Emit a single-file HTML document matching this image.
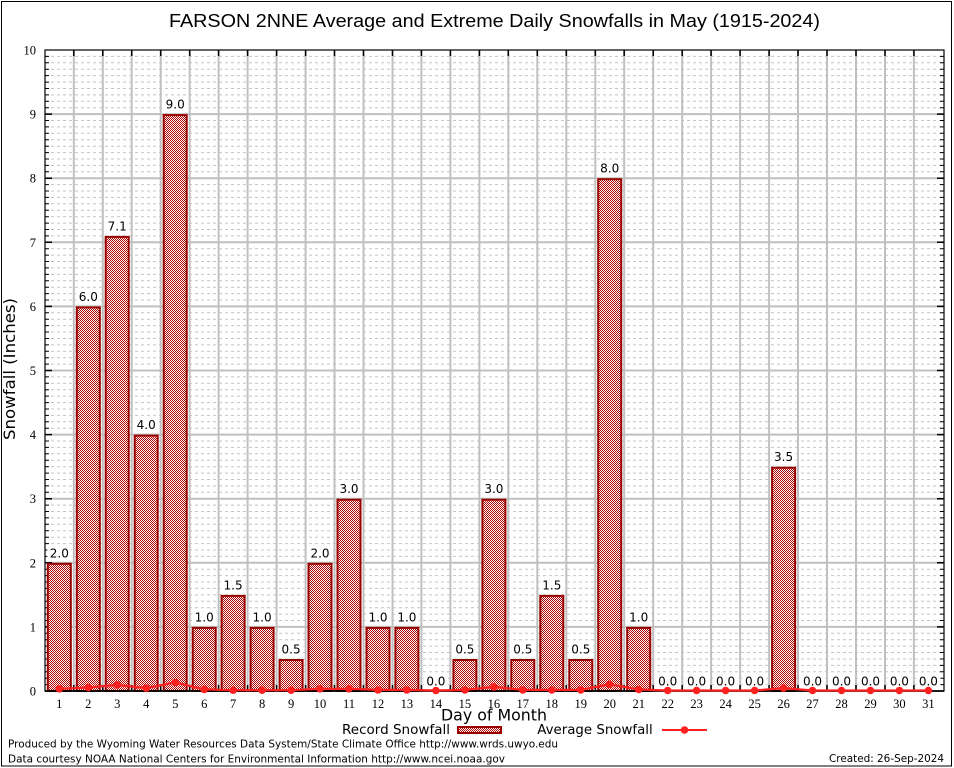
<!DOCTYPE html>
<html><head><meta charset="utf-8"><style>
html,body{margin:0;padding:0;background:#fff;}
svg{display:block;}
</style></head><body>
<svg width="954" height="768" viewBox="0 0 954 768" xmlns="http://www.w3.org/2000/svg">
<defs>
<pattern id="chk" width="2" height="2" patternUnits="userSpaceOnUse"><rect width="2" height="2" fill="#fff" shape-rendering="crispEdges"/><rect width="1" height="1" fill="#b00000" shape-rendering="crispEdges"/><rect x="1" y="1" width="1" height="1" fill="#b00000" shape-rendering="crispEdges"/></pattern>
<path id="minor" d="M45 684.6H944M45 678.2H944M45 671.8H944M45 665.4H944M45 659H944M45 652.5H944M45 646.1H944M45 639.7H944M45 633.3H944M45 620.5H944M45 614.1H944M45 607.7H944M45 601.3H944M45 594.9H944M45 588.4H944M45 582H944M45 575.6H944M45 569.2H944M45 556.4H944M45 550H944M45 543.6H944M45 537.2H944M45 530.8H944M45 524.3H944M45 517.9H944M45 511.5H944M45 505.1H944M45 492.3H944M45 485.9H944M45 479.5H944M45 473.1H944M45 466.7H944M45 460.2H944M45 453.8H944M45 447.4H944M45 441H944M45 428.2H944M45 421.8H944M45 415.4H944M45 409H944M45 402.6H944M45 396.1H944M45 389.7H944M45 383.3H944M45 376.9H944M45 364.1H944M45 357.7H944M45 351.3H944M45 344.9H944M45 338.5H944M45 332H944M45 325.6H944M45 319.2H944M45 312.8H944M45 300H944M45 293.6H944M45 287.2H944M45 280.8H944M45 274.4H944M45 267.9H944M45 261.5H944M45 255.1H944M45 248.7H944M45 235.9H944M45 229.5H944M45 223.1H944M45 216.7H944M45 210.3H944M45 203.8H944M45 197.4H944M45 191H944M45 184.6H944M45 171.8H944M45 165.4H944M45 159H944M45 152.6H944M45 146.2H944M45 139.7H944M45 133.3H944M45 126.9H944M45 120.5H944M45 107.7H944M45 101.3H944M45 94.9H944M45 88.5H944M45 82.1H944M45 75.6H944M45 69.2H944M45 62.8H944M45 56.4H944"/>
<path id="major" d="M45 626.9H944M45 562.8H944M45 498.7H944M45 434.6H944M45 370.5H944M45 306.4H944M45 242.3H944M45 178.2H944M45 114.1H944"/>
<path id="vgrid" d="M73.8 50V691M102.8 50V691M131.7 50V691M160.7 50V691M189.7 50V691M218.6 50V691M247.6 50V691M276.6 50V691M305.6 50V691M334.5 50V691M363.5 50V691M392.5 50V691M421.4 50V691M450.4 50V691M479.4 50V691M508.3 50V691M537.3 50V691M566.3 50V691M595.3 50V691M624.2 50V691M653.2 50V691M682.2 50V691M711.1 50V691M740.1 50V691M769.1 50V691M798 50V691M827 50V691M856 50V691M885 50V691M913.9 50V691"/>
</defs>
<rect x="0" y="0" width="954" height="768" fill="#fff"/>
<rect x="1.5" y="1.5" width="950" height="764.5" fill="none" stroke="#000" stroke-width="1"/>

<!-- grid -->
<use href="#minor" fill="none" stroke="#c4c4c4" stroke-width="1" stroke-dasharray="3 3"/>
<use href="#major" fill="none" stroke="#c0c0c0" stroke-width="2"/>
<use href="#vgrid" fill="none" stroke="#c0c0c0" stroke-width="2"/>

<!-- ticks -->
<use href="#minor" fill="none" stroke="#000" stroke-width="1" stroke-dasharray="4 891 4"/>
<use href="#major" fill="none" stroke="#000" stroke-width="1.5" stroke-dasharray="7 885 7"/>
<use href="#vgrid" fill="none" stroke="#000" stroke-width="1.5" stroke-dasharray="6 629 6"/>

<!-- bars -->
<g fill="url(#chk)" stroke="#990000" stroke-width="2">
<rect x="47.8" y="563.8" width="23" height="127.2"/>
<rect x="76.8" y="307.4" width="23" height="383.6"/>
<rect x="105.7" y="236.9" width="23" height="454.1"/>
<rect x="134.7" y="435.6" width="23" height="255.4"/>
<rect x="163.7" y="115.1" width="23" height="575.9"/>
<rect x="192.7" y="627.9" width="23" height="63.1"/>
<rect x="221.6" y="595.9" width="23" height="95.1"/>
<rect x="250.6" y="627.9" width="23" height="63.1"/>
<rect x="279.6" y="660" width="23" height="31"/>
<rect x="308.5" y="563.8" width="23" height="127.2"/>
<rect x="337.5" y="499.7" width="23" height="191.3"/>
<rect x="366.5" y="627.9" width="23" height="63.1"/>
<rect x="395.4" y="627.9" width="23" height="63.1"/>
<rect x="453.4" y="660" width="23" height="31"/>
<rect x="482.4" y="499.7" width="23" height="191.3"/>
<rect x="511.3" y="660" width="23" height="31"/>
<rect x="540.3" y="595.9" width="23" height="95.1"/>
<rect x="569.3" y="660" width="23" height="31"/>
<rect x="598.2" y="179.2" width="23" height="511.8"/>
<rect x="627.2" y="627.9" width="23" height="63.1"/>
<rect x="772.1" y="467.7" width="23" height="223.3"/>
</g>

<!-- value label boxes -->
<g fill="#fff">
<rect x="47.3" y="544.8" width="24" height="14"/>
<rect x="76.3" y="288.4" width="24" height="14"/>
<rect x="105.2" y="217.9" width="24" height="14"/>
<rect x="134.2" y="416.6" width="24" height="14"/>
<rect x="163.2" y="96.1" width="24" height="14"/>
<rect x="192.2" y="608.9" width="24" height="14"/>
<rect x="221.1" y="576.9" width="24" height="14"/>
<rect x="250.1" y="608.9" width="24" height="14"/>
<rect x="279.1" y="641" width="24" height="14"/>
<rect x="308" y="544.8" width="24" height="14"/>
<rect x="337" y="480.7" width="24" height="14"/>
<rect x="366" y="608.9" width="24" height="14"/>
<rect x="394.9" y="608.9" width="24" height="14"/>
<rect x="423.9" y="673" width="24" height="14"/>
<rect x="452.9" y="641" width="24" height="14"/>
<rect x="481.9" y="480.7" width="24" height="14"/>
<rect x="510.8" y="641" width="24" height="14"/>
<rect x="539.8" y="576.9" width="24" height="14"/>
<rect x="568.8" y="641" width="24" height="14"/>
<rect x="597.7" y="160.2" width="24" height="14"/>
<rect x="626.7" y="608.9" width="24" height="14"/>
<rect x="655.7" y="673" width="24" height="14"/>
<rect x="684.6" y="673" width="24" height="14"/>
<rect x="713.6" y="673" width="24" height="14"/>
<rect x="742.6" y="673" width="24" height="14"/>
<rect x="771.6" y="448.7" width="24" height="14"/>
<rect x="800.5" y="673" width="24" height="14"/>
<rect x="829.5" y="673" width="24" height="14"/>
<rect x="858.5" y="673" width="24" height="14"/>
<rect x="887.4" y="673" width="24" height="14"/>
<rect x="916.4" y="673" width="24" height="14"/>
</g>
<g font-family="'DejaVu Sans', 'Liberation Sans', sans-serif" font-size="12" fill="#000" text-anchor="middle">
<text x="59.3" y="557.3">2.0</text>
<text x="88.3" y="300.9">6.0</text>
<text x="117.2" y="230.4">7.1</text>
<text x="146.2" y="429.1">4.0</text>
<text x="175.2" y="108.6">9.0</text>
<text x="204.2" y="621.4">1.0</text>
<text x="233.1" y="589.4">1.5</text>
<text x="262.1" y="621.4">1.0</text>
<text x="291.1" y="653.5">0.5</text>
<text x="320" y="557.3">2.0</text>
<text x="349" y="493.2">3.0</text>
<text x="378" y="621.4">1.0</text>
<text x="406.9" y="621.4">1.0</text>
<text x="435.9" y="685.5">0.0</text>
<text x="464.9" y="653.5">0.5</text>
<text x="493.9" y="493.2">3.0</text>
<text x="522.8" y="653.5">0.5</text>
<text x="551.8" y="589.4">1.5</text>
<text x="580.8" y="653.5">0.5</text>
<text x="609.7" y="172.7">8.0</text>
<text x="638.7" y="621.4">1.0</text>
<text x="667.7" y="685.5">0.0</text>
<text x="696.6" y="685.5">0.0</text>
<text x="725.6" y="685.5">0.0</text>
<text x="754.6" y="685.5">0.0</text>
<text x="783.6" y="461.2">3.5</text>
<text x="812.5" y="685.5">0.0</text>
<text x="841.5" y="685.5">0.0</text>
<text x="870.5" y="685.5">0.0</text>
<text x="899.4" y="685.5">0.0</text>
<text x="928.4" y="685.5">0.0</text>
</g>

<!-- frame -->
<rect x="45" y="50" width="899" height="641" fill="none" stroke="#000" stroke-width="1.2"/>
<line x1="45" y1="691" x2="944" y2="691" stroke="#000" stroke-width="1.8"/>

<!-- average line -->
<polyline fill="none" stroke="#ff2020" stroke-width="2.2" points="59.3,688.8 88.3,687.5 117.2,684.9 146.2,688.1 175.2,682.4 204.2,689.4 233.1,690.2 262.1,690.2 291.1,690.2 320,688.8 349,688.8 378,689.9 406.9,689.9 435.9,690.5 464.9,689.9 493.9,686.9 522.8,689.9 551.8,689.9 580.8,689.9 609.7,684.3 638.7,689.5 667.7,690.5 696.6,690.5 725.6,690.5 754.6,690.5 783.6,688.1 812.5,690.5 841.5,690.5 870.5,690.5 899.4,690.5 928.4,690.5"/>
<g fill="#ff2020">
<circle cx="59.3" cy="688.8" r="3.8"/><circle cx="88.3" cy="687.5" r="3.8"/><circle cx="117.2" cy="684.9" r="3.8"/><circle cx="146.2" cy="688.1" r="3.8"/><circle cx="175.2" cy="682.4" r="3.8"/><circle cx="204.2" cy="689.4" r="3.8"/><circle cx="233.1" cy="690.2" r="3.8"/><circle cx="262.1" cy="690.2" r="3.8"/><circle cx="291.1" cy="690.2" r="3.8"/><circle cx="320" cy="688.8" r="3.8"/><circle cx="349" cy="688.8" r="3.8"/><circle cx="378" cy="689.9" r="3.8"/><circle cx="406.9" cy="689.9" r="3.8"/><circle cx="435.9" cy="690.5" r="3.8"/><circle cx="464.9" cy="689.9" r="3.8"/><circle cx="493.9" cy="686.9" r="3.8"/><circle cx="522.8" cy="689.9" r="3.8"/><circle cx="551.8" cy="689.9" r="3.8"/><circle cx="580.8" cy="689.9" r="3.8"/><circle cx="609.7" cy="684.3" r="3.8"/><circle cx="638.7" cy="689.5" r="3.8"/><circle cx="667.7" cy="690.5" r="3.8"/><circle cx="696.6" cy="690.5" r="3.8"/><circle cx="725.6" cy="690.5" r="3.8"/><circle cx="754.6" cy="690.5" r="3.8"/><circle cx="783.6" cy="688.1" r="3.8"/><circle cx="812.5" cy="690.5" r="3.8"/><circle cx="841.5" cy="690.5" r="3.8"/><circle cx="870.5" cy="690.5" r="3.8"/><circle cx="899.4" cy="690.5" r="3.8"/><circle cx="928.4" cy="690.5" r="3.8"/>
</g>

<!-- y tick labels -->
<g font-family="'Liberation Serif', serif" font-size="12.5" fill="#000" text-anchor="end">
<text x="36" y="695.5">0</text>
<text x="36" y="631.4">1</text>
<text x="36" y="567.3">2</text>
<text x="36" y="503.2">3</text>
<text x="36" y="439.1">4</text>
<text x="36" y="375">5</text>
<text x="36" y="310.9">6</text>
<text x="36" y="246.8">7</text>
<text x="36" y="182.7">8</text>
<text x="36" y="118.6">9</text>
<text x="36" y="54.5">10</text>
</g>

<!-- x tick labels -->
<g font-family="'Liberation Serif', serif" font-size="12.5" fill="#000" text-anchor="middle">
<text x="59.3" y="708">1</text><text x="88.3" y="708">2</text><text x="117.2" y="708">3</text><text x="146.2" y="708">4</text><text x="175.2" y="708">5</text><text x="204.2" y="708">6</text><text x="233.1" y="708">7</text><text x="262.1" y="708">8</text><text x="291.1" y="708">9</text><text x="320" y="708">10</text><text x="349" y="708">11</text><text x="378" y="708">12</text><text x="406.9" y="708">13</text><text x="435.9" y="708">14</text><text x="464.9" y="708">15</text><text x="493.9" y="708">16</text><text x="522.8" y="708">17</text><text x="551.8" y="708">18</text><text x="580.8" y="708">19</text><text x="609.7" y="708">20</text><text x="638.7" y="708">21</text><text x="667.7" y="708">22</text><text x="696.6" y="708">23</text><text x="725.6" y="708">24</text><text x="754.6" y="708">25</text><text x="783.6" y="708">26</text><text x="812.5" y="708">27</text><text x="841.5" y="708">28</text><text x="870.5" y="708">29</text><text x="899.4" y="708">30</text><text x="928.4" y="708">31</text>
</g>

<!-- title and axis labels -->
<text x="169" y="27" font-family="'Liberation Sans', sans-serif" font-size="18.5" fill="#000" textLength="651" lengthAdjust="spacingAndGlyphs">FARSON 2NNE Average and Extreme Daily Snowfalls in May (1915-2024)</text>
<text x="441" y="720.5" font-family="'DejaVu Sans', sans-serif" font-size="16" fill="#000" textLength="106" lengthAdjust="spacingAndGlyphs">Day of Month</text>
<text transform="translate(15,369) rotate(-90)" text-anchor="middle" font-family="'DejaVu Sans', sans-serif" font-size="16" fill="#000" textLength="142" lengthAdjust="spacingAndGlyphs">Snowfall (Inches)</text>

<!-- legend -->
<text x="450" y="734" text-anchor="end" font-family="'DejaVu Sans', sans-serif" font-size="13" fill="#000" textLength="108" lengthAdjust="spacingAndGlyphs">Record Snowfall</text>
<rect x="458" y="727" width="43" height="6" fill="url(#chk)" stroke="#990000" stroke-width="2"/>
<text x="537.3" y="734" font-family="'DejaVu Sans', sans-serif" font-size="13" fill="#000" textLength="115.4" lengthAdjust="spacingAndGlyphs">Average Snowfall</text>
<line x1="662" y1="730" x2="707" y2="730" stroke="#ff2020" stroke-width="2"/>
<circle cx="684.5" cy="730" r="3.8" fill="#ff2020"/>

<!-- footer -->
<g font-family="'DejaVu Sans', sans-serif" font-size="10.5" fill="#000">
<text x="8" y="747.5" textLength="550" lengthAdjust="spacingAndGlyphs">Produced by the Wyoming Water Resources Data System/State Climate Office http://www.wrds.uwyo.edu</text>
<text x="8" y="762.5" textLength="497" lengthAdjust="spacingAndGlyphs">Data courtesy NOAA National Centers for Environmental Information http://www.ncei.noaa.gov</text>
<text x="944" y="762" text-anchor="end" textLength="115" lengthAdjust="spacingAndGlyphs">Created: 26-Sep-2024</text>
</g>
</svg>
</body></html>
